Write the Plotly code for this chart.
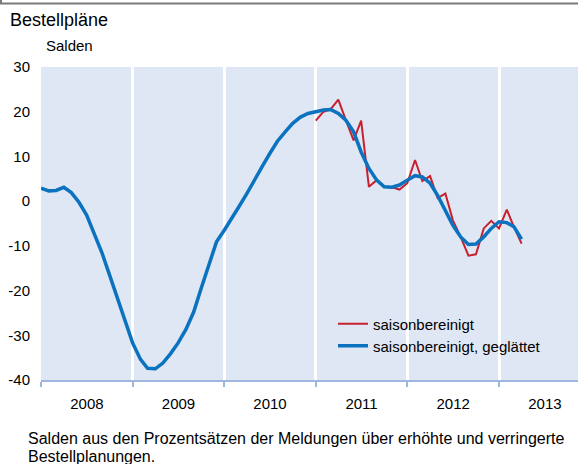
import pandas as pd
import plotly.graph_objects as go

# ---- data ----
smooth_dates = pd.date_range("2008-01-01", "2013-04-01", freq="MS")
smooth_values = [
    2.9, 2.3, 2.4, 3.1, 1.9, -0.3, -3.1, -7.2, -11.7, -16.6, -21.8, -26.6,
    -31.8, -35.4, -37.4, -37.5, -36.2, -34.1, -31.7, -28.7, -24.8, -19.5, -13.9, -9.1,
    -6.5, -3.9, -1.2, 1.7, 4.8, 7.7, 10.6, 13.4, 15.5, 17.4, 18.8, 19.6,
    20.0, 20.4, 20.5, 19.6, 18.1, 15.5, 11.0, 7.3, 4.7, 3.2, 3.1, 3.6,
    4.7, 5.7, 5.4, 4.0, 1.3, -2.0, -5.4, -8.0, -9.7, -9.6, -8.0, -6.1,
    -4.6, -4.8, -5.7, -8.5,
]
sa_dates = pd.date_range("2011-01-01", "2013-04-01", freq="MS")
sa_values = [
    18.0, 20.0, 20.5, 22.7, 18.1, 13.6, 18.0, 3.2, 4.7, 3.2, 3.1, 2.6,
    4.0, 9.2, 4.5, 5.6, 0.7, 1.7, -4.3, -8.0, -12.2, -11.9, -6.1, -4.4,
    -6.1, -1.9, -5.7, -9.5,
]
y_ticks = [-40, -30, -20, -10, 0, 10, 20, 30]
y_tick_labels = ["-40", "-30", "-20", "-10", "0", "10", "20", "30"]

FONT = "Arial, Liberation Sans, sans-serif"

fig = go.Figure()
fig.add_trace(go.Scatter(
    x=sa_dates, y=sa_values, mode="lines", name="saisonbereinigt",
    line=dict(color="#c8202e", width=2), legend="legend",
))
fig.add_trace(go.Scatter(
    x=smooth_dates, y=smooth_values, mode="lines", name="saisonbereinigt, geglättet",
    line=dict(color="#0a72bf", width=3.5), legend="legend2",
))

W, H = 578, 464
L, R, T, B = 41, 0, 67, 84
pw, ph = W - L - R, H - T - B

def px(x):
    return (x - L) / pw

def py(y):
    return (H - B - y) / ph

legend_common = dict(xanchor="left", yanchor="middle",
                     bgcolor="rgba(0,0,0,0)", font=dict(size=15))

fig.update_layout(
    width=W, height=H,
    margin=dict(l=L, r=R, t=T, b=B, pad=0),
    paper_bgcolor="white",
    plot_bgcolor="#e0e7f4",
    font=dict(family=FONT, size=15, color="#000"),
    showlegend=True,
    legend=dict(x=px(333), y=py(324), **legend_common),
    legend2=dict(x=px(333), y=py(346), **legend_common),
    xaxis=dict(
        type="date",
        range=["2008-01-01", "2013-11-12"],
        tick0="2008-01-01", dtick="M12", tickformat="%Y",
        ticklabelmode="period",
        showgrid=True, gridcolor="white", gridwidth=3,
        ticks="outside", ticklen=5, tickcolor="#9fb6de", tickwidth=1.5,
        showline=True, linecolor="#9fb6de", linewidth=1.5,
        zeroline=False, ticklabelstandoff=4,
        tickfont=dict(size=15),
    ),
    yaxis=dict(
        range=[-40, 30],
        tickvals=y_ticks, ticktext=y_tick_labels,
        showgrid=False, zeroline=False, showline=False,
        ticks="", ticklabelstandoff=10,
        tickfont=dict(size=15),
    ),
    annotations=[
        dict(text="Bestellpläne", xref="paper", yref="paper", x=px(8), y=py(20),
             xanchor="left", yanchor="middle", showarrow=False, font=dict(size=18)),
        dict(text="Salden", xref="paper", yref="paper", x=px(44), y=py(46),
             xanchor="left", yanchor="middle", showarrow=False, font=dict(size=15)),
        dict(text="Salden aus den Prozentsätzen der Meldungen über erhöhte und verringerte",
             xref="paper", yref="paper", x=px(26), y=py(439),
             xanchor="left", yanchor="middle", align="left", showarrow=False,
             font=dict(size=16)),
        dict(text="Bestellplanungen.",
             xref="paper", yref="paper", x=px(26), y=py(456),
             xanchor="left", yanchor="middle", align="left", showarrow=False,
             font=dict(size=16)),
    ],
    shapes=[
        dict(type="line", xref="paper", yref="paper", x0=px(0), x1=px(578),
             y0=py(3.5), y1=py(3.5), line=dict(color="#7a7a7a", width=2),
             layer="above"),
        dict(type="line", xref="paper", yref="paper", x0=px(1), x1=px(1),
             y0=py(0), y1=py(4), line=dict(color="#7a7a7a", width=2),
             layer="above"),
    ],
)

fig.write_html("out.html", config={"displayModeBar": False},
               post_script="document.body.style.margin='0';")
